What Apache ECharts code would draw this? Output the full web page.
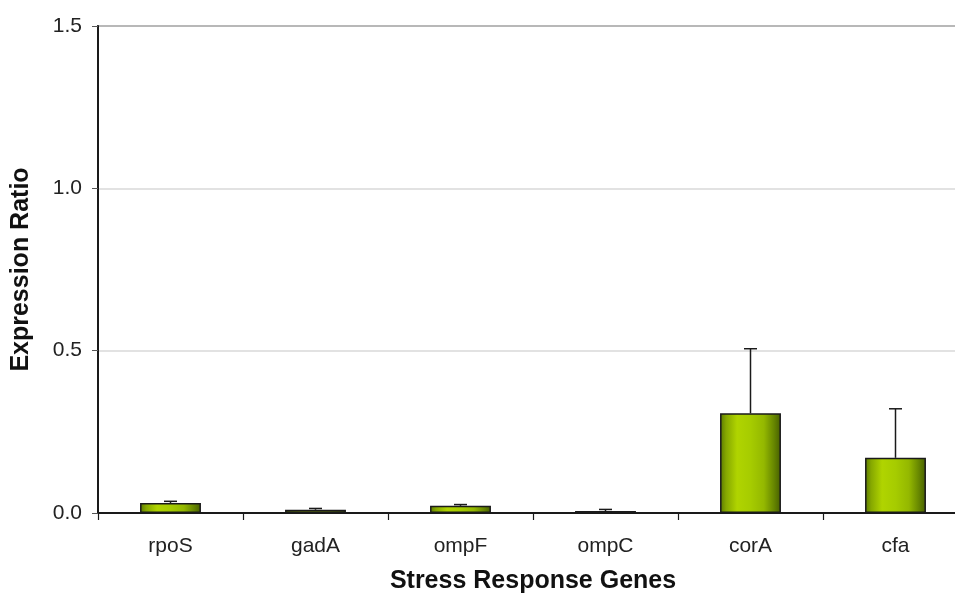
<!DOCTYPE html>
<html>
<head>
<meta charset="utf-8">
<script src="https://cdn.jsdelivr.net/npm/echarts@6/dist/echarts.min.js"></script>
<style>
  html, body { margin: 0; padding: 0; background: #fff; overflow: hidden; }
  #chart { width: 955px; height: 594px; }
</style>
</head>
<body>
<div id="chart"></div>
<script>
// Stress response gene expression ratios with error bars
const genes = ['rpoS', 'gadA', 'ompF', 'ompC', 'corA', 'cfa'];
const ratios = [0.031, 0.010, 0.022, 0.006, 0.307, 0.170];
const errors = [0.005, 0.004, 0.004, 0.005, 0.199, 0.151];
const yTicks = [0, 0.5, 1.0, 1.5];

const chart = echarts.init(document.getElementById('chart'));

const barFill = new echarts.graphic.LinearGradient(0, 0, 1, 0, [
  { offset: 0, color: '#5a7800' },
  { offset: 0.1, color: '#86a800' },
  { offset: 0.28, color: '#b0d400' },
  { offset: 0.5, color: '#a6cc00' },
  { offset: 0.72, color: '#94b800' },
  { offset: 0.88, color: '#688800' },
  { offset: 1, color: '#465e00' }
]);

const textFont = 'Liberation Sans, Arial, sans-serif';

// plot area runs past the right edge of the visible page
chart.setOption({
  animation: false,
  backgroundColor: '#ffffff',
  grid: {
    left: 98, top: 26, right: -13, bottom: 81,
    outerBoundsMode: 'none',
    containLabel: false,
    show: true, borderColor: '#222', borderWidth: 1.5, backgroundColor: 'transparent'
  },
  xAxis: {
    type: 'category',
    data: genes,
    name: 'Stress Response Genes',
    nameLocation: 'middle',
    nameGap: 56,
    nameTextStyle: { fontFamily: textFont, fontSize: 25, fontWeight: 'bold', color: '#111' },
    axisLine: { lineStyle: { color: '#1a1a1a', width: 2 } },
    axisTick: { show: true, interval: 0, length: 7, lineStyle: { color: '#1a1a1a', width: 1.2 } },
    axisLabel: { interval: 0, margin: 23, fontFamily: textFont, fontSize: 21, color: '#222' }
  },
  yAxis: {
    type: 'value',
    min: 0, max: 1.5, interval: 0.5,
    name: 'Expression Ratio',
    nameLocation: 'middle',
    nameGap: 64,
    nameTextStyle: { fontFamily: textFont, fontSize: 25, fontWeight: 'bold', color: '#111' },
    axisLine: { show: true, lineStyle: { color: '#1a1a1a', width: 2 } },
    axisTick: { show: true, length: 6, lineStyle: { color: '#555', width: 1 } },
    axisLabel: {
      margin: 16, fontFamily: textFont, fontSize: 21, color: '#222',
      formatter: v => yTicks.includes(v) ? v.toFixed(1) : ''
    },
    splitLine: { show: true, lineStyle: { color: '#d8d8d8', width: 1.5 } }
  },
  series: [
    {
      type: 'bar',
      data: ratios,
      barWidth: '42%',
      itemStyle: { color: barFill, borderColor: '#1a1a1a', borderWidth: 1.5 },
      z: 2
    },
    {
      type: 'custom',
      z: 3,
      data: genes.map((g, i) => [i, ratios[i], ratios[i] + errors[i]]),
      renderItem: function (params, api) {
        const base = api.coord([api.value(0), api.value(1)]);
        const top = api.coord([api.value(0), api.value(2)]);
        const half = 6.5;
        const style = { stroke: '#1a1a1a', lineWidth: 1.5 };
        return {
          type: 'group',
          children: [
            { type: 'line', shape: { x1: base[0], y1: base[1], x2: top[0], y2: top[1] }, style },
            { type: 'line', shape: { x1: top[0] - half, y1: top[1], x2: top[0] + half, y2: top[1] }, style }
          ]
        };
      }
    }
  ]
});
</script>
</body>
</html>
